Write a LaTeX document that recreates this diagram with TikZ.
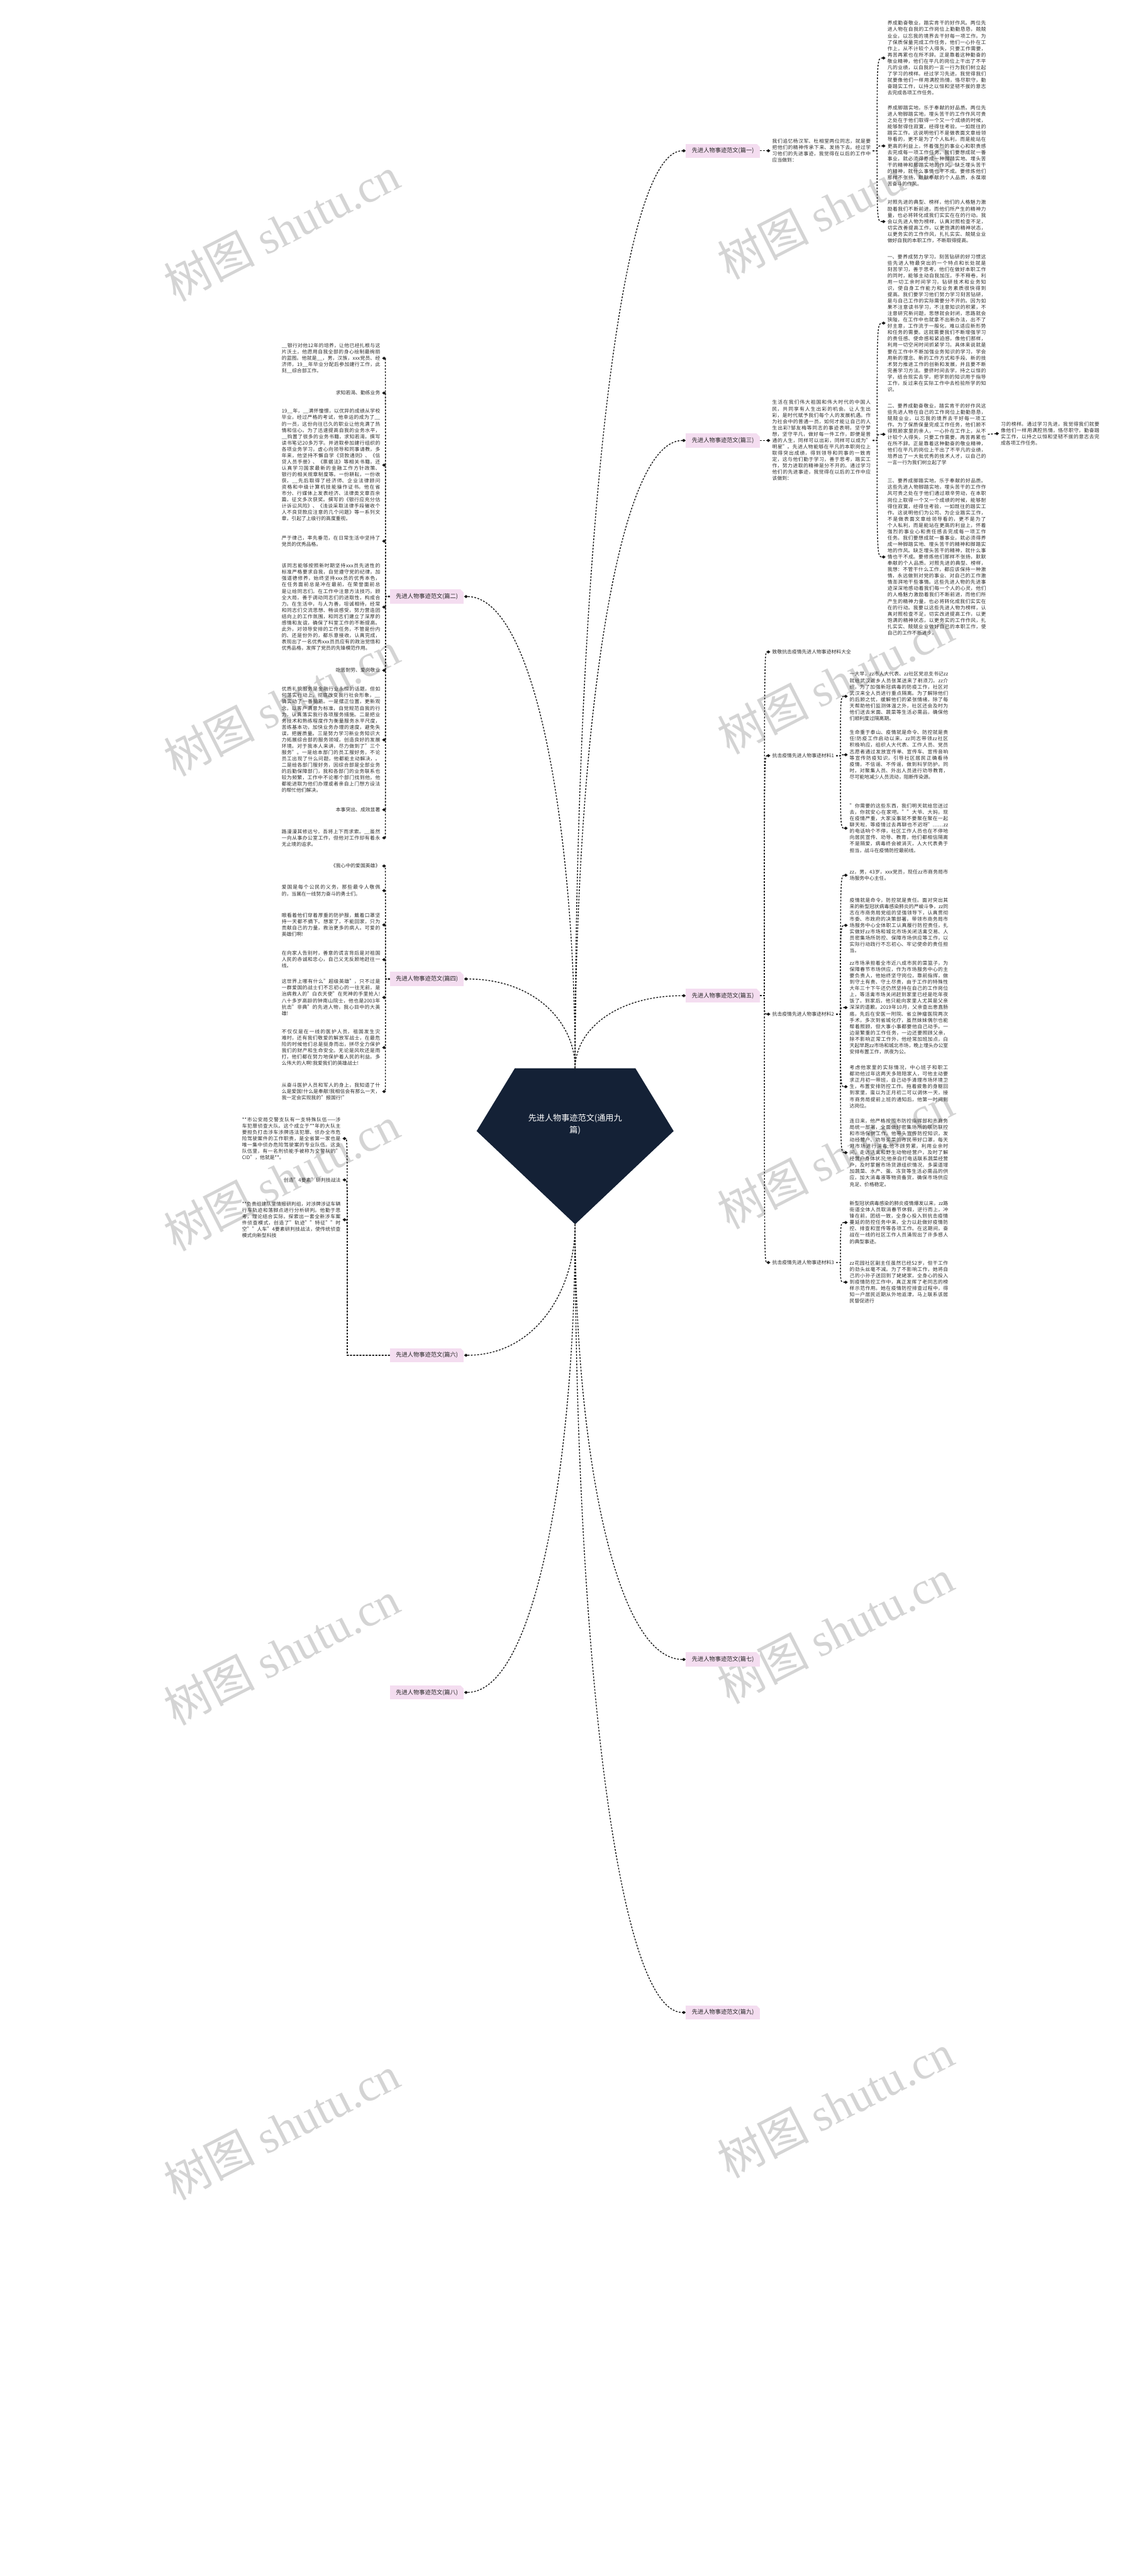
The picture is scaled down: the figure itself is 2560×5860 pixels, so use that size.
\documentclass[tikz,border=0pt]{standalone}
\usepackage{fontspec}
\setmainfont{Noto Sans CJK SC}
\newfontfamily\wmlat{Liberation Serif}
\usetikzlibrary{arrows.meta,calc}
\XeTeXlinebreaklocale "zh"
\XeTeXlinebreakskip=0pt plus 1pt
\definecolor{navy}{RGB}{20,33,54}
\definecolor{pinkc}{RGB}{244,221,240}
\definecolor{txtc}{RGB}{45,45,45}
\definecolor{wmc}{RGB}{212,212,212}
\newcommand\kidR[2]{\coordinate (kk) at ($(#1.east)+(10,0)$);\draw[conn,tipd] (#1.east) -- (kk) .. controls (kk |- #2.west) and (kk |- #2.west) .. (#2.west);}
\newcommand\kidL[2]{\coordinate (kk) at ($(#1.west)+(-10,0)$);\draw[conn,tipd] (#1.west) -- (kk) .. controls (kk |- #2.east) and (kk |- #2.east) .. (#2.east);}
\newcommand\kidLx[3]{\coordinate (kk) at (#3,0);\draw[conn,tipd] (#1.west) -- (kk |- #1.west) .. controls (kk |- #2.east) and (kk |- #2.east) .. (#2.east);}
\newcommand\chamf[1]{\fill[white] ([xshift=-4pt]#1.north east) -- (#1.north east) -- ([yshift=-4pt]#1.north east) -- cycle;}
\begin{document}
\begin{tikzpicture}[x=0.5pt,y=-0.5pt,
  conn/.style={line width=1pt,dash pattern=on 2pt off 1.6pt,draw=black!90},
  tipd/.style={-{Diamond[length=4.5pt,width=3.6pt]}},
  txt/.style={font=\fontsize{5.6}{7.2}\selectfont,text width=112pt,align=justify,inner xsep=2pt,inner ysep=1pt,text=txtc},
  stxt/.style={font=\fontsize{5.6}{7.2}\selectfont,inner xsep=2pt,inner ysep=1pt,text=txtc},
  lbl/.style={fill=pinkc,minimum width=84pt,minimum height=16pt,inner sep=0pt,font=\fontsize{6.6}{8}\selectfont,text=black!85},
  wm/.style={font=\fontsize{52}{56}\selectfont,text=wmc,rotate=27}]
\useasboundingbox (0,0) rectangle (2560,5860);
\fill[white] (0,0) rectangle (2560,5860);
% watermarks
\foreach \yy in {520,1600,2680,3760,4840} {\node[wm] (wmL\yy) at (640,\yy) {树图 {\wmlat shutu.cn}};}
\foreach \yy in {470,1550,2630,3710,4790} {\node[wm] (wmR\yy) at (1900,\yy) {树图 {\wmlat shutu.cn}};}
% centre
\fill[navy] (1171,2430) -- (1445,2430) -- (1532,2573) -- (1308,2785) -- (1084,2573) -- cycle;
\node[font=\fontsize{9.4}{13.5}\selectfont,text=white,align=center] (root) at (1308,2558) {先进人物事迹范文(通用九\\篇)};
\coordinate (ctop) at (1308,2430);
\coordinate (cbot) at (1308,2785);
% ---------- labels
\node[lbl] (l1) at (1644,343) {先进人物事迹范文(篇一)};
\node[lbl] (l3) at (1644,1002) {先进人物事迹范文(篇三)};
\node[lbl] (l5) at (1644,2265) {先进人物事迹范文(篇五)};
\node[lbl] (l7) at (1644,3775) {先进人物事迹范文(篇七)};
\node[lbl] (l9) at (1644,4578) {先进人物事迹范文(篇九)};
\node[lbl] (l2) at (971,1357) {先进人物事迹范文(篇二)};
\node[lbl] (l4) at (971,2227) {先进人物事迹范文(篇四)};
\node[lbl] (l6) at (971,3083) {先进人物事迹范文(篇六)};
\node[lbl] (l8) at (971,3850) {先进人物事迹范文(篇八)};
\foreach \n in {l1,l2,l3,l4,l5,l6,l7,l8,l9} {\chamf{\n}}
\draw[conn,tipd] (ctop) .. controls (1308,1386) and (1396,343) .. (l1.west);
\draw[conn,tipd] (ctop) .. controls (1308,1716) and (1396,1002) .. (l3.west);
\draw[conn,tipd] (ctop) .. controls (1308,2347) and (1396,2265) .. (l5.west);
\draw[conn,tipd] (ctop) .. controls (1308,1893) and (1219,1357) .. (l2.east);
\draw[conn,tipd] (ctop) .. controls (1308,2328) and (1219,2227) .. (l4.east);
\draw[conn,tipd] (cbot) .. controls (1308,2934) and (1219,3083) .. (l6.east);
\draw[conn,tipd] (cbot) .. controls (1308,3280) and (1396,3775) .. (l7.west);
\draw[conn,tipd] (cbot) .. controls (1308,3317) and (1219,3850) .. (l8.east);
\draw[conn,tipd] (cbot) .. controls (1308,3681) and (1396,4578) .. (l9.west);
% ---------- 篇一
\node[txt,anchor=west] (t1) at (1752,343) {我们追忆杨汉军、杜相堂两位同志，就是要把他们的精神传承下来、发扬下去。经过学习他们的先进事迹，我觉得在以后的工作中应当做到：};
\node[txt,anchor=west] (a1) at (2014,132) {养成勤奋敬业，踏实肯干的好作风。两位先进人物在自我的工作岗位上勤勤恳恳，兢兢业业，以忘我的境界去干好每一项工作。为了保质保量完成工作任务，他们一心扑在工作上，从不计较个人得失，只要工作需要，再苦再累也在所不辞。正是靠着这种勤奋的敬业精神，他们在平凡的岗位上干出了不平凡的业绩，以自我的一言一行为我们树立起了学习的榜样。经过学习先进，我觉得我们就要像他们一样用满腔热情，恪尽职守，勤奋踏实工作，以持之以恒和坚韧不拔的意志去完成各项工作任务。};
\node[txt,anchor=west] (a2) at (2014,332) {养成脚踏实地，乐于奉献的好品质。两位先进人物脚踏实地，埋头苦干的工作作风可贵之处在于他们取得一个又一个成绩的时候，能够耐得住寂寞，经得住考验，一如既往的踏实工作。这说明他们不是做表面文章给领导看的，更不是为了个人私利，而是能站在更高的利益上，怀着强烈的事业心和职责感去完成每一项工作任务。我们要想成就一番事业，就必须得养成一种脚踏实地、埋头苦干的精神和脚踏实地的作风。缺乏埋头苦干的精神，就什么事情也干不成。要修炼他们那样不张扬，默默奉献的个人品质，永葆艰苦奋斗的作风。};
\node[txt,anchor=west] (a3) at (2014,504) {对照先进的典型、榜样，他们的人格魅力激励着我们不断前进，而他们所产生的精神力量，也必将转化成我们实实在在的行动。我会以先进人物为榜样，认真对照检查不足，切实改善提高工作，以更饱满的精神状态，以更务实的工作作风，扎扎实实、兢兢业业做好自我的本职工作，不断取得提高。};
\draw[conn,tipd] (l1.east) -- (t1.west);
\kidR{t1}{a1}\kidR{t1}{a2}\kidR{t1}{a3}
% ---------- 篇三
\node[txt,anchor=west] (t3) at (1752,1002) {生活在我们伟大祖国和伟大时代的中国人民，共同享有人生出彩的机会。让人生出彩，是时代赋予我们每个人的发展机遇。作为社会中的普通一员，如何才能让自己的人生出彩?邹友梅等同志的事迹表明，坚守梦想，坚守平凡，做好每一件工作，即便是普通的人生，同样可以出彩，同样可以成为"明星"。先进人物能够在平凡的本职岗位上取得突出成绩，得到领导和同事的一致肯定，这与他们勤于学习，善于思考，踏实工作，努力进取的精神是分不开的。通过学习他们的先进事迹，我觉得在以后的工作中应该做到：};
\node[txt,anchor=west] (c1) at (2014,735) {一、要养成努力学习，刻苦钻研的好习惯这些先进人物最突出的一个特点和长处就是刻苦学习，善于思考，他们在做好本职工作的同时，能够主动自我加压，手不释卷，利用一切工余时间学习，钻研技术和业务知识，使自身工作能力和业务素质很快得到提高。我们要学习他们努力学习刻苦钻研，是与自己工作的实际需要分不开的。因为如果不注意读书学习，不注意知识的积累，不注意研究新问题，思想就会封闭，思路就会狭隘，在工作中也就拿不出新办法，出不了好主意，工作流于一般化，难以适应新形势和任务的需要。这就需要我们不断增强学习的责任感、使命感和紧迫感，像他们那样，利用一切空闲时间抓紧学习。具体来说就是要在工作中不断加强业务知识的学习，学会用新的理念、新的工作方式和手段、新的技术努力推进工作的创新和发展，并且要不断完善学习方法。要挤时间去学，持之以恒的学，结合现实去学，把学到的知识用于指导工作，反过来在实际工作中去检验所学的知识。};
\node[txt,anchor=west] (c2) at (2014,988) {二、要养成勤奋敬业，踏实肯干的好作风这些先进人物在自己的工作岗位上勤勤恳恳，兢兢业业，以忘我的境界去干好每一项工作。为了保质保量完成工作任务，他们顾不得照顾家里的亲人，一心扑在工作上，从不计较个人得失，只要工作需要，再苦再累也在所不辞。正是靠着这种勤奋的敬业精神，他们在平凡的岗位上干出了不平凡的业绩，培养出了一大批优秀的技术人才，以自己的一言一行为我们树立起了学};
\node[txt,anchor=west] (c2a) at (2272,986) {习的榜样。通过学习先进，我觉得我们就要像他们一样用满腔热情，恪尽职守，勤奋踏实工作，以持之以恒和坚韧不拔的意志去完成各项工作任务。};
\node[txt,anchor=west] (c3) at (2014,1267) {三、要养成脚踏实地，乐于奉献的好品质。这些先进人物脚踏实地，埋头苦干的工作作风可贵之处在于他们通过艰辛劳动，在本职岗位上取得一个又一个成绩的时候，能够耐得住寂寞，经得住考验，一如既往的踏实工作。这说明他们为公司、为企业踏实工作，不是做表面文章给领导看的，更不是为了个人私利，而是能站在更高的利益上，怀着强烈的事业心和责任感去完成每一项工作任务。我们要想成就一番事业，就必须得养成一种脚踏实地、埋头苦干的精神和脚踏实地的作风。缺乏埋头苦干的精神，就什么事情也干不成。要修炼他们那样不张扬，默默奉献的个人品质。对照先进的典型、榜样，我想：不管干什么工作，都应该保持一种激情，永远做到对党的事业、对自己的工作激情澎湃地干些事情。这些先进人物的先进事迹深深地感动着我们每一个人的心灵，他们的人格魅力激励着我们不断前进，而他们所产生的精神力量，也必将转化成我们实实在在的行动。我要以这些先进人物为榜样，认真对照检查不足，切实改进提高工作，以更饱满的精神状态，以更务实的工作作风，扎扎实实、兢兢业业做好自己的本职工作，使自己的工作不断进步。};
\draw[conn,tipd] (l3.east) -- (t3.west);
\kidR{t3}{c1}\kidR{t3}{c2}\kidR{t3}{c3}
\draw[conn,tipd] (c2.east) -- (c2a.west);
% ---------- 篇五
\node[stxt,anchor=west] (e0) at (1752,1483) {致敬抗击疫情先进人物事迹材料大全};
\node[stxt,anchor=west] (m1) at (1752,1719) {抗击疫情先进人物事迹材料1};
\node[stxt,anchor=west] (m2) at (1752,2307) {抗击疫情先进人物事迹材料2};
\node[stxt,anchor=west] (m3) at (1752,2872) {抗击疫情先进人物事迹材料3};
\kidR{l5}{e0}\kidR{l5}{m1}\kidR{l5}{m2}\kidR{l5}{m3}
\node[txt,anchor=west] (e1a) at (1928,1584) {一大早，zz市人大代表、zz社区党总支书记zz就给武汉返乡人员张某送来了剃须刀。zz介绍，为了加强新冠病毒的防疫工作，社区对武汉来全人员进行重点隔离。为了解除他们的后顾之忧，缓解他们的紧张情绪，除了每天帮助他们监测体温之外，社区还会及时为他们送去米面、蔬菜等生活必需品，确保他们顺利度过隔离期。};
\node[txt,anchor=west] (e1b) at (1928,1717) {生命重于泰山、疫情就是命令、防控就是责任!防疫工作启动以来，zz同志带领zz社区积极响应，组织人大代表、工作人员、党员志愿者通过发放宣传单、宣传车、宣传音响等宣传防疫知识，引导社区居民正确看待疫情，不信谣、不传谣，做到科学防护。同时，对聚集人员、外出人员进行劝导教育，尽可能地减少人员流动，阻断传染源。};
\node[txt,anchor=west] (e1c) at (1928,1884) {"你需要的这些东西，我们明天就给您送过去，你就安心在家吧。""大爷、大妈，现在疫情严重，大家没事就不要聚在聚在一起聊天啦，等疫情过去再聊也不迟呀"……zz的电话响个不停，社区工作人员也在不停地向居民宣传、劝导、教育，他们都相信隔离不是隔爱，病毒终会被消灭，人大代表勇于担当，战斗在疫情防控最前线。};
\kidR{m1}{e1a}\kidR{m1}{e1b}\kidR{m1}{e1c}
\node[txt,anchor=west] (e2a) at (1928,1991) {zz，男，43岁，xxx党员，现任zz市商务局市场服务中心主任。};
\node[txt,anchor=west] (e2b) at (1928,2105) {疫情就是命令，防控就是责任。面对突出其来的新型冠状病毒感染肺炎的严峻斗争，zz同志在市商务局党组的坚强领导下，认真贯彻市委、市政府的决策部署，带领市商务局市场服务中心全体职工认真履行防控责任，扎实做好zz市场和城北市场关闭活禽交易、人员密集场所防控、保障市场供应等工作，以实际行动践行不忘初心、牢记使命的责任担当。};
\node[txt,anchor=west] (e2c) at (1928,2292) {zz市场承担着全市近八成市民的菜篮子，为保障春节市场供应，作为市场服务中心的主要负责人，他始终坚守岗位，靠前指挥，做到守土有责、守土尽责，由于工作的特殊性大年三十下午还仍然坚持在自己的工作岗位上，等活禽市场关闭赶到家里已经是吃年夜饭了。到家后，他只能向家里人尤其是父亲深深的道歉。2019年10月，父亲查出患直肠癌，先后在安医一附院、省立肿瘤医院两次手术，多次到省城化疗，虽然妹妹偶尔也能帮着照顾，但大事小事都要他自己动手。一边是繁重的工作任务，一边还要照顾父亲，除不影响正常工作外，他经常加班加点，白天起早跑zz市场和城北市场，晚上埋头办公室安排布置工作，夙夜为公。};
\node[txt,anchor=west] (e2d) at (1928,2472) {考虑他家里的实际情况，中心班子和职工都劝他过年这两天多陪陪家人，可他主动要求正月初一带班，自己动手清理市场环境卫生，布置安排防控工作。拖着疲惫的身躯回到家里，蛮以为正月初二可以调休一天，接市商务局提前上班的通知后，他第一时间到达岗位。};
\node[txt,anchor=west] (e2e) at (1928,2622) {连日来，他严格按照市防控指挥部和市商务局统一部署，全面做好密集场所的联防联控和市场保供工作。他带头宣传防控知识，发动经营户、劝导买菜的市民带好口罩，每天对市场进行消毒;他不顾劳累，利用业余时间，走访活禽和野生动物经营户，及时了解经营户身体状况;他亲自打电话联系蔬菜经营户，及时掌握市场货源组织情况，多渠道增加蔬菜、水产、蛋、冻货等生活必需品的供应，加大消毒液等物资备货，确保市场供应充足、价格稳定。};
\kidR{m2}{e2a}\kidR{m2}{e2b}\kidR{m2}{e2c}\kidR{m2}{e2d}\kidR{m2}{e2e}
\node[txt,anchor=west] (e3a) at (1928,2781) {新型冠状病毒感染的肺炎疫情爆发以来，zz路街道全体人员取消春节休假，逆行而上，冲锋在前，团结一致，全身心投入到抗击疫情蔓延的防控任务中来，全力以赴做好疫情防控、排查和宣传等各项工作。在这期间，奋战在一线的社区工作人员涌现出了许多感人的典型事迹。};
\node[txt,anchor=north west] (e3b) at (1928,2866) {zz花园社区副主任虽然已经52岁，但干工作的劲头丝毫不减。为了不影响工作，她将自己的小孙子送回到了姥姥家，全身心的投入到疫情防控工作中，真正发挥了老同志的榜样示范作用。她在疫情防控排查过程中，得知一户居民近期从外地返津，马上联系该居民督促进行};
\kidR{m3}{e3a}\kidR{m3}{e3b}
% ---------- 篇二
\node[txt,anchor=east] (b1) at (869,815) {\_\_银行对他12年的培养，让他已经扎根与这片沃土，他愿用自我全部的身心绘制最绚丽的蓝图。他就是\_\_，男，汉族，xxx党员、经济师，19\_\_年毕业分配后参加建行工作，此刻\_\_综合部工作。};
\node[stxt,anchor=east] (b2) at (869,894) {求知若渴、勤练业务};
\node[txt,anchor=east] (b3) at (869,1058) {19\_\_年，\_\_满怀憧憬，以优异的成绩从学校毕业，经过严格的考试，他幸运的成为了\_\_的一员，这份向往已久的职业让他充满了热情和信心。为了迅速提高自我的业务水平，\_\_购置了很多的业务书籍，求知若渴，撰写读书笔记20多万字。并进取参加建行组织的各项业务学习，虚心向领导和同事请教，多年来，他坚持不懈自学《贷款通则》、《信贷人员手册》、《票据法》等相关书籍，还认真学习国家最新的金融工作方针政策、银行的相关规章制度等。一份耕耘，一份收获，\_\_先后取得了经济师、企业法律顾问资格和中级计算机技能操作证书。他在省市分、行媒体上发表经济、法律类文章百余篇，征文多次获奖。撰写的《银行应充分估计诉讼风险》、《浅谈采取法律手段催收个人不良贷款应注意的几个问题》等一系列文章，引起了上级行的高度重视。};
\node[txt,anchor=east] (b4) at (869,1231) {严于律己，率先垂范，在日常生活中坚持了党员的优秀品格。};
\node[txt,anchor=east] (b5) at (869,1381) {该同志能够按照新时期坚持xxx员先进性的标准严格要求自我，自觉遵守党的纪律，加强道德修养，始终坚持xxx员的优秀本色，在任务面前总是冲在最前，在荣誉面前总是让给同志们。在工作中注意方法技巧，顾全大局，善于调动同志们的进取性，构成合力。在生活中，与人为善，坦诚相待，经常和同志们交流思想、畅谈感受，努力营造团结向上的工作氛围，和同志们建立了深厚的感情和友谊，确保了科室工作的不断提高。此外，对领导安排的工作任务，不管是份内的、还是份外的，都乐意接收，认真完成，表现出了一名优秀xxx员员应有的政治觉悟和优秀品格，发挥了党员的先锋模范作用。};
\node[stxt,anchor=east] (b6) at (869,1525) {吃苦耐劳、爱岗敬业};
\node[txt,anchor=east] (b7) at (869,1683) {优质礼貌服务是金融行业永恒的话题，但如何落实行动上，彻底改变我行社会形象，\_\_确实动了一番脑筋。一是摆正位置，更新观念，以客户满意为标准，自觉规范自我的行为，认真落实我行各项服务措施。二是把业务技术和熟练程度作为衡量服务水平尺度，苦练基本功，加快业务办理的速度，避免失误，把握质量。三是努力学习新业务知识大力拓展综合部的服务领域，创造良好的发展环境。对于我本人来讲，尽力做到了"三个服务"。一是给本部门的员工服好务，不论员工出现了什么问题，他都能主动解决，。二是给各部门服好务，因综合部是全部业务的后勤保障部门，我和各部门的业务联系也较为频繁，工作中不论哪个部门找到他，他都能进取为他们办理或者亲自上门想方设法的帮忙他们解决。};
\node[stxt,anchor=east] (b8) at (869,1842) {本事突出、成效显著};
\node[txt,anchor=east] (b9) at (869,1906) {路漫漫其修远兮，吾将上下而求索。\_\_虽然一向从事办公室工作，但他对工作却有着永无止境的追求。};
\kidL{l2}{b1}\kidL{l2}{b2}\kidL{l2}{b3}\kidL{l2}{b4}\kidL{l2}{b5}\kidL{l2}{b6}\kidL{l2}{b7}\kidL{l2}{b8}\kidL{l2}{b9}
% ---------- 篇四
\node[stxt,anchor=east] (d1) at (869,1970) {《我心中的爱国英雄》};
\node[txt,anchor=east] (d2) at (869,2026) {爱国是每个公民的义务，那些最令人敬佩的，当属在一线努力奋斗的勇士们。};
\node[txt,anchor=east] (d3) at (869,2104) {眼看着他们穿着厚重的防护服，戴着口罩坚持一天都不摘下。想家了，不能回家，只为贡献自己的力量，救治更多的病人。可爱的英雄们啊!};
\node[txt,anchor=east] (d4) at (869,2183) {在向家人告别时，善意的谎言背后是对祖国人民的赤诚和忠心，自己义无反顾地赶往一线。};
\node[txt,anchor=east] (d5) at (869,2269) {这世界上哪有什么"超级英雄"，只不过是一群爱国的战士们不忘初心的一往无前，是治病救人的"白衣天使"在死神的手里抢人!八十多岁高龄的钟南山院士，他也是2003年抗击"非典"的先进人物，我心目中的大英雄!};
\node[txt,anchor=east] (d6) at (869,2383) {不仅仅是在一线的医护人员，祖国发生灾难时，还有我们敬爱的解放军战士，在最危险的时候他们总是挺身而出，拼尽全力保护我们的财产和生命安全。无论是风吹还是雨打，他们都在努力地保护着人民的利益。多么伟大的人啊!我爱我们的英雄战士!};
\node[txt,anchor=east] (d7) at (869,2483) {从奋斗医护人员和军人的身上，我知道了什么是爱国!什么是奉献!我相信会有那么一天，我一定会实现我的"报国行!"};
\kidL{l4}{d1}\kidL{l4}{d2}\kidL{l4}{d3}\kidL{l4}{d4}\kidL{l4}{d5}\kidL{l4}{d6}\kidL{l4}{d7}
% ---------- 篇六
\node[txt,anchor=east] (f1) at (779,2590) {**市公安局交警支队有一支特殊队伍——涉车犯罪侦查大队。这个成立于**年的大队主要担负打击涉车涉牌违法犯罪、侦办全市危险驾驶案件的工作职责，是全省第一家也是唯一集中侦办危险驾驶案的专业队伍。这支队伍里，有一名刑侦能手被称为交警队的"CID"，他就是**。};
\node[stxt,anchor=east] (f2) at (779,2684) {创造"4要素"研判技战法};
\node[txt,anchor=north east] (f3) at (779,2731) {**负责组建队里情报研判组，对涉牌涉证车辆行车轨迹和落脚点进行分析研判。他勤于思考，理论结合实际，探索出一套全新涉车案件侦查模式，创造了"轨迹""特征""时空""人车"4要素研判技战法，使传统侦查模式向新型科技};
\kidLx{l6}{f1}{790}\kidLx{l6}{f2}{790}\kidLx{l6}{f3}{790}
\end{tikzpicture}
\end{document}
